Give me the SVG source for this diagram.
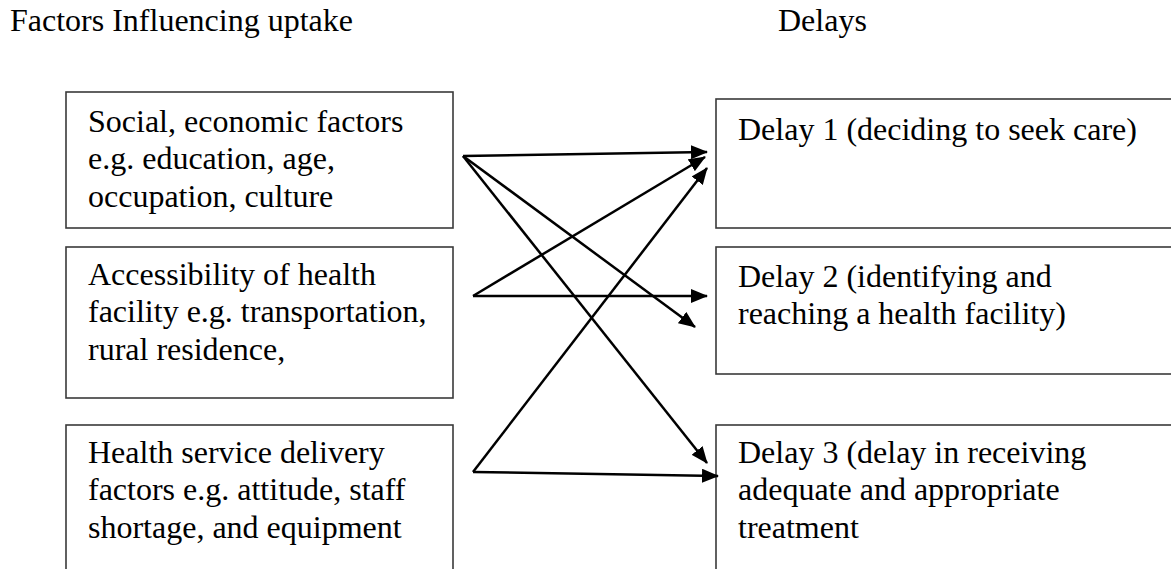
<svg xmlns="http://www.w3.org/2000/svg" width="1171" height="569" viewBox="0 0 1171 569" font-family="'Liberation Serif', 'DejaVu Serif', serif">
<style>
  text { font-family: 'Liberation Serif', 'DejaVu Serif', serif; font-size: 32px; fill: #000; }
  .box { fill: #fff; stroke: #3a3a3a; stroke-width: 1.6; }
  .conn { stroke: #000; stroke-width: 2.5; fill: none; marker-end: url(#ah); }
</style>
<defs>
  <marker id="ah" markerUnits="userSpaceOnUse" markerWidth="17" markerHeight="14" refX="16" refY="7" orient="auto">
    <path d="M0,0 L17,7 L0,14 z" fill="#000"/>
  </marker>
</defs>
<rect width="1171" height="569" fill="#fff"/>
<g id="headers" font-family="'Liberation Serif', serif">
  <text x="10" y="31">Factors Influencing uptake</text>
  <text x="778" y="31">Delays</text>
</g>
<g id="factor-social" font-family="'Liberation Serif', serif">
  <rect class="box" x="66" y="92" width="387" height="136"/>
  <text x="88" y="132">Social, economic factors</text>
  <text x="88" y="169">e.g. education, age,</text>
  <text x="88" y="207">occupation, culture</text>
</g>
<g id="factor-access" font-family="'Liberation Serif', serif">
  <rect class="box" x="66" y="247" width="387" height="151"/>
  <text x="88" y="285">Accessibility of health</text>
  <text x="88" y="322">facility e.g. transportation,</text>
  <text x="88" y="360">rural residence,</text>
</g>
<g id="factor-service" font-family="'Liberation Serif', serif">
  <rect class="box" x="66" y="425" width="387" height="160"/>
  <text x="88" y="463">Health service delivery</text>
  <text x="88" y="500">factors e.g. attitude, staff</text>
  <text x="88" y="538">shortage, and equipment</text>
</g>
<g id="delay1" font-family="'Liberation Serif', serif">
  <rect class="box" x="716" y="99" width="470" height="129"/>
  <text x="738" y="140">Delay 1 (deciding to seek care)</text>
</g>
<g id="delay2" font-family="'Liberation Serif', serif">
  <rect class="box" x="716" y="247" width="470" height="127"/>
  <text x="738" y="287">Delay 2 (identifying and</text>
  <text x="738" y="324">reaching a health facility)</text>
</g>
<g id="delay3" font-family="'Liberation Serif', serif">
  <rect class="box" x="716" y="425" width="470" height="160"/>
  <text x="738" y="463">Delay 3 (delay in receiving</text>
  <text x="738" y="500">adequate and appropriate</text>
  <text x="738" y="538">treatment</text>
</g>
<g id="connectors">
  <line class="conn" x1="463" y1="156" x2="707" y2="152"/>
  <line class="conn" x1="463" y1="156" x2="695" y2="327"/>
  <line class="conn" x1="463" y1="156" x2="707" y2="463"/>
  <line class="conn" x1="473" y1="296" x2="705" y2="157"/>
  <line class="conn" x1="473" y1="296" x2="707" y2="296"/>
  <line class="conn" x1="473" y1="472" x2="707" y2="168"/>
  <line class="conn" x1="473" y1="472" x2="718" y2="476"/>
</g>
</svg>
